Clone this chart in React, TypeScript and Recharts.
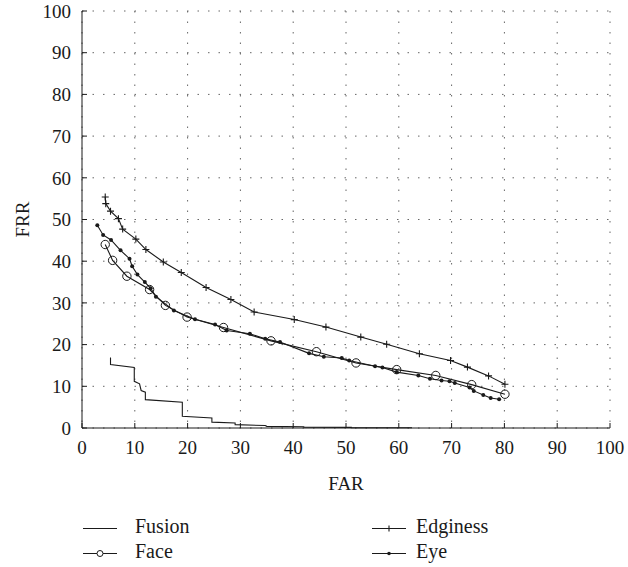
import { LineChart, Line, XAxis, YAxis, CartesianGrid } from "recharts";

const FONT = "Liberation Serif, DejaVu Serif, Times New Roman, serif";
const INK = "#1a1a1a";

const ticks = [0, 10, 20, 30, 40, 50, 60, 70, 80, 90, 100];

const fusionFar = [5.4, 5.4, 9.9, 9.9, 10.9, 11.2, 12.0, 12.0, 19.0, 19.0, 24.6, 24.6, 29.0, 29.0, 34.7, 35.0, 42.0, 42.0, 51.0, 51.0, 62.5];
const fusionFrr = [16.9, 15.2, 14.5, 11.2, 10.6, 9.0, 8.6, 6.8, 6.2, 2.8, 2.4, 1.4, 1.2, 0.8, 0.6, 0.4, 0.3, 0.2, 0.15, 0.08, 0.05];

const edginessFar = [4.4, 4.5, 5.4, 6.9, 7.7, 10.2, 12.1, 15.4, 18.8, 23.5, 28.2, 32.6, 40.2, 46.2, 52.8, 57.7, 63.9, 69.8, 73.0, 77.0, 80.1];
const edginessFrr = [55.4, 53.8, 52.0, 50.2, 47.7, 45.3, 42.8, 39.8, 37.3, 33.7, 30.8, 27.8, 26.0, 24.2, 21.8, 20.1, 17.8, 16.2, 14.6, 12.5, 10.5];

const faceFar = [4.4, 5.8, 8.5, 12.8, 15.8, 19.9, 26.8, 35.8, 44.4, 51.9, 59.6, 67.0, 73.8, 80.1];
const faceFrr = [44.0, 40.2, 36.4, 33.2, 29.4, 26.6, 24.1, 20.9, 18.3, 15.6, 14.0, 12.6, 10.4, 8.1];

const eyeFar = [2.9, 4.0, 5.5, 7.3, 9.0, 9.5, 10.5, 11.9, 13.0, 14.0, 17.4, 21.4, 25.2, 27.4, 31.8, 34.7, 37.5, 43.0, 45.8, 49.2, 50.6, 55.5, 56.9, 59.6, 63.7, 65.9, 68.1, 69.6, 70.6, 73.4, 74.2, 76.0, 77.4, 79.0];
const eyeFrr = [48.6, 46.3, 45.1, 42.6, 40.6, 38.8, 36.8, 35.0, 33.5, 31.5, 28.2, 26.1, 24.8, 23.4, 22.6, 21.4, 20.6, 17.9, 17.1, 16.8, 16.2, 14.8, 14.5, 13.4, 12.6, 11.8, 11.4, 11.2, 10.8, 9.7, 8.9, 7.9, 7.2, 6.9];

const toRows = (xs: number[], ys: number[]) => xs.map((far, i) => ({ far, frr: ys[i] }));

const fusion = toRows(fusionFar, fusionFrr);
const edginess = toRows(edginessFar, edginessFrr);
const face = toRows(faceFar, faceFrr);
const eye = toRows(eyeFar, eyeFrr);

const PlusDot = (props: any) => {
  const { cx, cy, index } = props;
  if (cx == null || cy == null) return null;
  return (
    <path
      key={`p-${index}`}
      d={`M${cx - 3.5},${cy}h7M${cx},${cy - 3.5}v7`}
      stroke={INK}
      strokeWidth={1.1}
      fill="none"
    />
  );
};

const CircleDot = (props: any) => {
  const { cx, cy, index } = props;
  if (cx == null || cy == null) return null;
  return <circle key={`c-${index}`} cx={cx} cy={cy} r={4.2} stroke={INK} strokeWidth={1} fill="none" />;
};

const SmallDot = (props: any) => {
  const { cx, cy, index } = props;
  if (cx == null || cy == null) return null;
  return <circle key={`d-${index}`} cx={cx} cy={cy} r={2} fill={INK} stroke="none" />;
};

const legendItems = [
  { name: "Fusion", marker: "none", col: 0, row: 0 },
  { name: "Edginess", marker: "plus", col: 1, row: 0 },
  { name: "Face", marker: "circle", col: 0, row: 1 },
  { name: "Eye", marker: "dot", col: 1, row: 1 },
];

function ChartLegend() {
  return (
    <svg width={628} height={52} style={{ position: "absolute", left: 0, top: 515, display: "block" }}>
      {legendItems.map((item) => {
        const x0 = item.col === 0 ? 83 : 372;
        const textX = item.col === 0 ? 135 : 416;
        const y = item.row === 0 ? 13.5 : 38.5;
        const mx = x0 + 17;
        return (
          <g key={item.name}>
            <line x1={x0} x2={x0 + 34} y1={y} y2={y} stroke={INK} strokeWidth={1.1} />
            {item.marker === "plus" && (
              <path d={`M${mx - 3},${y}h6M${mx},${y - 3}v6`} stroke={INK} strokeWidth={1.1} />
            )}
            {item.marker === "circle" && <circle cx={mx} cy={y} r={3} fill="white" stroke={INK} strokeWidth={1} />}
            {item.marker === "dot" && <circle cx={mx} cy={y} r={1.8} fill={INK} />}
            <text x={textX} y={y} dominantBaseline="middle" style={{ fontFamily: FONT, fontSize: 20 }} fill={INK}>
              {item.name}
            </text>
          </g>
        );
      })}
    </svg>
  );
}

const tickStyle = { fontFamily: FONT, fontSize: 19, fill: INK };

export default function App() {
  return (
    <div style={{ position: "absolute", left: 0, top: 0, width: 628, height: 567, background: "white", fontFamily: FONT }}>
      <LineChart width={628} height={567} margin={{ top: 11, right: 18, bottom: 70, left: 10 }} style={{ fontFamily: FONT }}>
        <CartesianGrid stroke="#666" strokeDasharray="1.5 9" strokeWidth={1} />
        <XAxis
          dataKey="far"
          type="number"
          domain={[0, 100]}
          ticks={ticks}
          allowDuplicatedCategory={false}
          height={69}
          stroke={INK}
          tickSize={-5}
          tickMargin={18}
          tick={tickStyle}
          label={{
            value: "FAR",
            content: (p: any) => {
              const vb = p.viewBox || { x: 81.5, y: 427.5, width: 528.5 };
              return (
                <text
                  x={vb.x + vb.width / 2}
                  y={vb.y + 57.5}
                  textAnchor="middle"
                  dominantBaseline="middle"
                  style={{ fontFamily: FONT, fontSize: 19 }}
                  fill={INK}
                >
                  FAR
                </text>
              );
            },
          }}
        />
        <XAxis
          xAxisId="top"
          orientation="top"
          dataKey="far"
          type="number"
          domain={[0, 100]}
          ticks={ticks}
          height={0}
          stroke={INK}
          tickSize={-5}
          tick={false}
        />
        <YAxis
          type="number"
          domain={[0, 100]}
          ticks={ticks}
          width={72}
          stroke={INK}
          tickSize={-5}
          tickMargin={16}
          tick={tickStyle}
          label={{
            value: "FRR",
            content: (p: any) => {
              const vb = p.viewBox || { x: 10, y: 11, height: 416.5 };
              const cx = vb.x + 15;
              const cy = vb.y + vb.height / 2;
              return (
                <text
                  x={cx}
                  y={cy}
                  transform={`rotate(-90, ${cx}, ${cy})`}
                  textAnchor="middle"
                  dominantBaseline="middle"
                  style={{ fontFamily: FONT, fontSize: 19 }}
                  fill={INK}
                >
                  FRR
                </text>
              );
            },
          }}
        />
        <YAxis
          yAxisId="right"
          orientation="right"
          type="number"
          domain={[0, 100]}
          ticks={ticks}
          width={0}
          stroke={INK}
          tickSize={-5}
          tick={false}
        />
        <Line
          data={fusion}
          dataKey="frr"
          name="Fusion"
          type="linear"
          stroke={INK}
          strokeWidth={1.1}
          dot={false}
          activeDot={false}
          isAnimationActive={false}
        />
        <Line
          data={edginess}
          dataKey="frr"
          name="Edginess"
          type="linear"
          stroke={INK}
          strokeWidth={1.1}
          dot={PlusDot}
          activeDot={false}
          isAnimationActive={false}
        />
        <Line
          data={face}
          dataKey="frr"
          name="Face"
          type="linear"
          stroke={INK}
          strokeWidth={1.1}
          dot={CircleDot}
          activeDot={false}
          isAnimationActive={false}
        />
        <Line
          data={eye}
          dataKey="frr"
          name="Eye"
          type="linear"
          stroke={INK}
          strokeWidth={1.1}
          dot={SmallDot}
          activeDot={false}
          isAnimationActive={false}
        />
      </LineChart>
      <ChartLegend />
    </div>
  );
}
